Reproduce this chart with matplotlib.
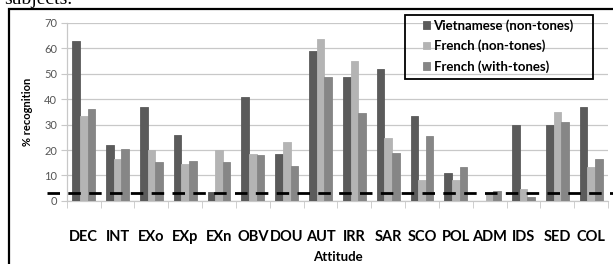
import matplotlib.pyplot as plt
import matplotlib.patches as mpatches
import numpy as np

plt.rcParams['font.family'] = ['Lato', 'DejaVu Sans']

attitudes = ['DEC', 'INT', 'EXo', 'EXp', 'EXn', 'OBV', 'DOU', 'AUT',
             'IRR', 'SAR', 'SCO', 'POL', 'ADM', 'IDS', 'SED', 'COL']
viet_non = [63.1, 22.0, 37.1, 26.0, 3.5, 40.7, 18.5, 59.1,
            48.6, 51.7, 33.3, 11.0, 0.0, 29.8, 29.8, 37.1]
french_non = [33.3, 16.5, 20.0, 14.7, 20.0, 18.3, 23.2, 63.6,
              55.1, 24.8, 8.1, 8.1, 3.0, 4.7, 34.9, 13.3]
french_with = [36.2, 20.5, 15.2, 15.6, 15.2, 17.9, 13.8, 48.8,
               34.6, 18.9, 25.6, 13.5, 3.7, 1.6, 31.1, 16.4]
chance = 3.3

series = [('Vietnamese (non-tones)', viet_non, '#5b5b5b'),
          ('French (non-tones)', french_non, '#b4b4b4'),
          ('French (with-tones)', french_with, '#868686')]

W, H = 613, 264
fig = plt.figure(figsize=(W / 100, H / 100), dpi=100)
ax = fig.add_axes([0.109, 0.239, 0.883, 0.674])

x = np.arange(len(attitudes))
w = 0.225
for i, (name, vals, col) in enumerate(series):
    ax.bar(x + (i - 1) * w, vals, w, color=col, edgecolor=col, linewidth=0.6,
           label=name, zorder=3)

ax.set_xlim(-0.5, len(attitudes) - 0.5)
ax.set_ylim(0, 70)
ax.set_yticks(range(0, 71, 10))
ax.yaxis.grid(True, color='#c8c8c8', linewidth=0.9, zorder=0)
ax.tick_params(axis='y', length=4, color='#c8c8c8', labelsize=8,
               labelcolor='#555555', pad=3)

ax.set_xticks(x)
ax.set_xticklabels(attitudes, fontweight='bold', fontsize=10.5)
ax.set_xticks(np.arange(-0.5, len(attitudes), 1), minor=True)
ax.tick_params(axis='x', which='major', length=0, pad=21)
ax.tick_params(axis='x', which='minor', length=5, color='#c8c8c8')

for s in ['top', 'right']:
    ax.spines[s].set_visible(False)
for s in ['left', 'bottom']:
    ax.spines[s].set_color('#c8c8c8')
    ax.spines[s].set_linewidth(0.9)

ax.set_ylabel('% recognition', fontweight='bold', fontsize=8, labelpad=8)
ax.set_xlabel('Attitude', fontweight='bold', fontsize=9.5, labelpad=5)

ax.axhline(chance, xmin=-0.037, xmax=1.01, color='black', linewidth=2,
           linestyle=(0, (4.5, 3)), clip_on=False, zorder=4)

# legend without its own frame; the box is drawn separately (wide side padding)
leg = ax.legend(loc='upper left', bbox_to_anchor=(423 / W, 1 - 19 / H),
                bbox_transform=fig.transFigure, frameon=False,
                prop={'weight': 'bold', 'size': 9.5},
                handlelength=0.55, handleheight=0.55, handletextpad=0.25,
                borderpad=0, labelspacing=0.6, borderaxespad=0)
fig.patches.append(mpatches.Rectangle((405 / W, 1 - 79 / H), 188 / W, 64 / H,
                                      transform=fig.transFigure, fill=False,
                                      edgecolor='black', linewidth=1.3,
                                      zorder=5))

# outer frame of the figure box
fig.patches.append(mpatches.Rectangle((9 / W, -0.1), 1.1, 1 - 9 / H + 0.1,
                                      transform=fig.transFigure, fill=False,
                                      edgecolor='black', linewidth=1.6))
fig.text(0.006, 1 - 4 / H, 'subjects.', family='Liberation Serif',
         fontsize=14, va='baseline', ha='left')

fig.savefig('out.png', dpi=100)
